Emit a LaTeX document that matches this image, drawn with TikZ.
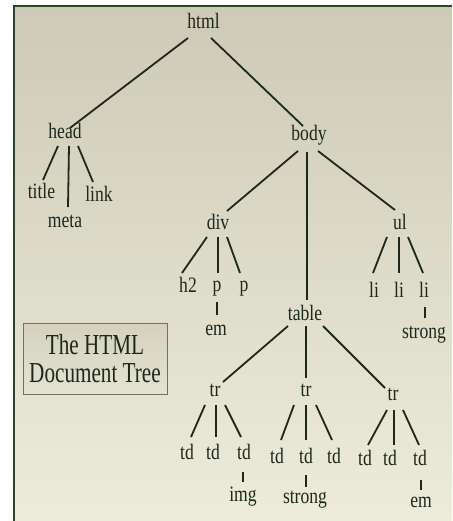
\documentclass[tikz,border=0pt]{standalone}
\usepackage{fontspec}
\setmainfont{Liberation Serif}
\definecolor{bgtop}{RGB}{205,202,183}
\definecolor{bgbot}{RGB}{237,235,218}
\definecolor{ink}{RGB}{28,40,28}
\definecolor{frame}{RGB}{40,70,40}
\definecolor{boxtop}{RGB}{212,210,191}
\definecolor{boxbot}{RGB}{228,226,208}
\definecolor{boxline}{RGB}{110,112,96}
\newcommand\sx[1]{\scalebox{0.8}[1]{#1}}
\newcommand\bx[1]{\scalebox{0.73}[1]{#1}}
\tikzset{
  tn/.style={anchor=base, inner sep=0pt, text=ink, font=\fontsize{22}{26}\selectfont},
  conn/.style={draw=ink, line width=1.8pt},
  titlebox/.style={draw=boxline, line width=1pt, top color=boxtop, bottom color=boxbot,
    minimum width=144pt, minimum height=71pt, inner sep=0pt, align=center, text=ink,
    font=\fontsize{29}{28}\selectfont}
}
\begin{document}
\begin{tikzpicture}[x=1pt,y=-1pt]
\useasboundingbox (0,0) rectangle (452,521);
\fill[white] (0,0) rectangle (452,521);
\shade[top color=bgtop, bottom color=bgbot] (14,6) rectangle (452,521);
\draw[frame, line width=2pt] (14,521) -- (14,6) -- (452,6);

% nodes
\node[tn] (html) at (203.5,29) {\sx{html}};
\node[tn] (head) at (65,139) {\sx{head}};
\node[tn] (body) at (309,141) {\sx{body}};
\node[tn] (title) at (41.5,199) {\sx{title}};
\node[tn] (meta) at (65,227) {\sx{meta}};
\node[tn] (link) at (99,201) {\sx{link}};
\node[tn] (div) at (218,229) {\sx{div}};
\node[tn] (ul) at (400,229) {\sx{ul}};
\node[tn] (h2) at (188,292) {\sx{h2}};
\node[tn] (p1) at (217,291) {\sx{p}};
\node[tn] (p2) at (244,291) {\sx{p}};
\node[tn] (em1) at (216,335) {\sx{em}};
\node[tn] (li1) at (374,297) {\sx{li}};
\node[tn] (li2) at (399,297) {\sx{li}};
\node[tn] (li3) at (424,297) {\sx{li}};
\node[tn] (strong1) at (424,338) {\sx{strong}};
\node[tn] (table) at (305,320) {\sx{table}};
\node[tn] (tr1) at (215,396) {\sx{tr}};
\node[tn] (tr2) at (306,396) {\sx{tr}};
\node[tn] (tr3) at (393,400) {\sx{tr}};
\node[tn] (td11) at (187,459) {\sx{td}};
\node[tn] (td12) at (213,459) {\sx{td}};
\node[tn] (td13) at (244,459) {\sx{td}};
\node[tn] (img) at (243,501) {\sx{img}};
\node[tn] (td21) at (277,463) {\sx{td}};
\node[tn] (td22) at (306,463) {\sx{td}};
\node[tn] (td23) at (334,463) {\sx{td}};
\node[tn] (strong2) at (305,503) {\sx{strong}};
\node[tn] (td31) at (365,465) {\sx{td}};
\node[tn] (td32) at (390,465) {\sx{td}};
\node[tn] (td33) at (420,465) {\sx{td}};
\node[tn] (em2) at (421,507) {\sx{em}};

\node[titlebox] (caption) at (95,358.5) {\bx{The HTML}\\\bx{Document Tree}};

% connectors
\newcommand\lnk[4]{\draw[conn] ([shift={(#2)}]#1.base) -- ([shift={(#4)}]#3.base);}
\lnk{html}{-15.5,9}{head}{5,-11}
\lnk{html}{7.5,9}{body}{-6,-15}
\lnk{head}{-7,7}{title}{1.5,-19}
\lnk{head}{4,7}{meta}{3,-20}
\lnk{head}{13,7}{link}{-6,-19}
\lnk{body}{-11,10}{div}{9,-18}
\lnk{body}{-2,11}{table}{2,-20}
\lnk{body}{9,10}{ul}{-5,-19}
\lnk{div}{-11,8}{h2}{-6,-19}
\lnk{div}{0,8}{p1}{1,-18}
\lnk{div}{9,8}{p2}{-4,-18}
\lnk{p1}{0,11}{em1}{1,-20}
\lnk{ul}{-13,8}{li1}{-1,-24}
\lnk{ul}{-1,8}{li2}{0,-24}
\lnk{ul}{8,8}{li3}{-1,-24}
\lnk{li3}{1,10}{strong1}{1,-20}
\lnk{table}{-17,6}{tr1}{8,-14}
\lnk{table}{1,6}{tr2}{0,-18}
\lnk{table}{18,6}{tr3}{-8,-12}
\lnk{tr1}{-10,9}{td11}{4,-22}
\lnk{tr1}{1,9}{td12}{3,-22}
\lnk{tr1}{10,9}{td13}{-3,-22}
\lnk{td13}{-1,13}{img}{0,-19}
\lnk{tr2}{-12,9}{td21}{4,-23}
\lnk{tr2}{0,9}{td22}{0,-23}
\lnk{tr2}{10,9}{td23}{-2,-23}
\lnk{td22}{0,12}{strong2}{1,-16}
\lnk{tr3}{-6,10}{td31}{3,-20}
\lnk{tr3}{1,10}{td32}{4,-20}
\lnk{tr3}{10,10}{td33}{-1,-20}
\lnk{td33}{1,15}{em2}{0,-17}
\end{tikzpicture}
\end{document}
